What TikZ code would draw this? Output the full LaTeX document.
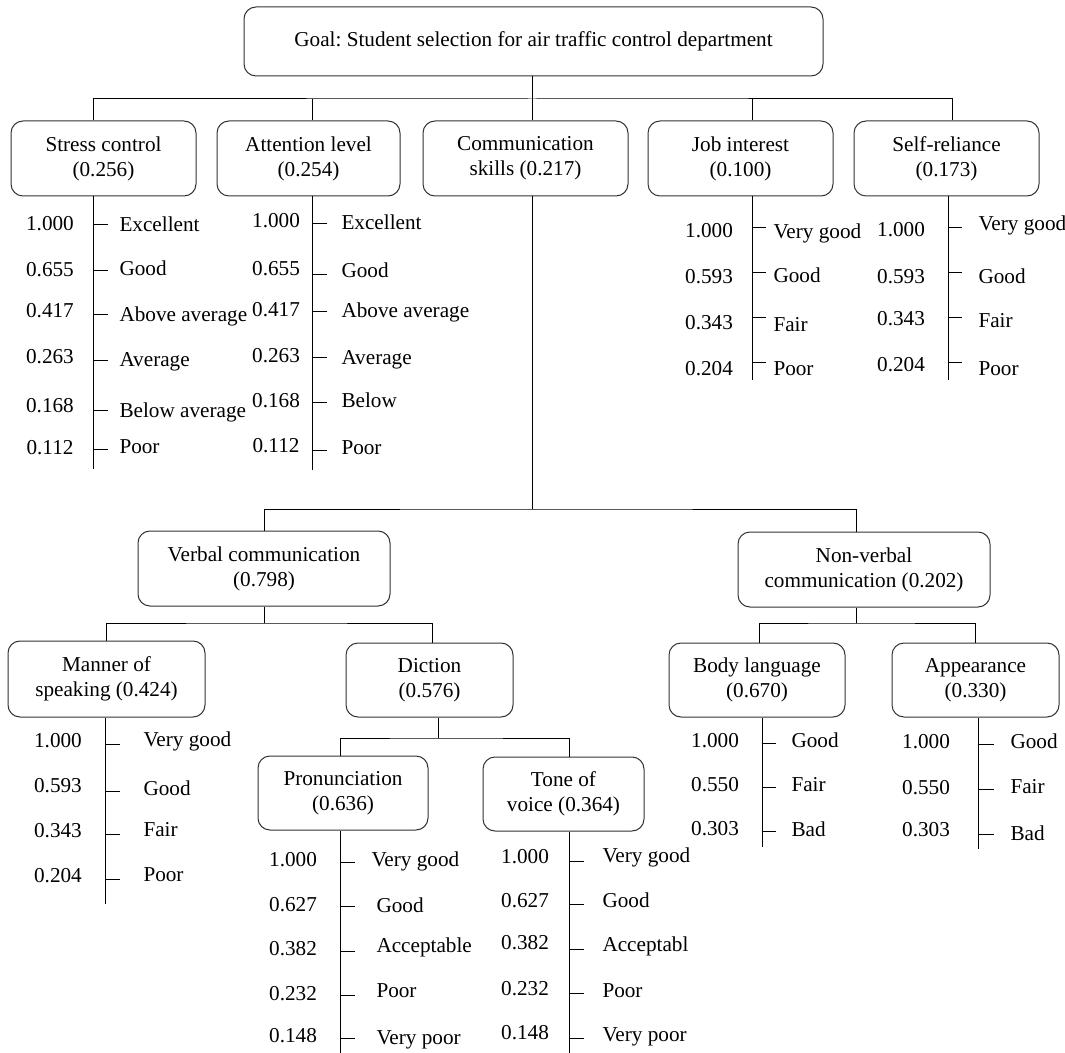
\documentclass[tikz,border=0pt]{standalone}
\usepackage{fontspec}
\setmainfont{Liberation Serif}
\usepackage{tikz}
\frenchspacing

\tikzset{
  box/.style={draw=black!80, rounded corners=6pt, align=center, inner sep=0pt, minimum height=37.5pt},
  val/.style={anchor=mid, inner sep=0pt},
  lab/.style={anchor=mid west, inner sep=0pt},
}

\begin{document}
\begin{tikzpicture}[x=0.5pt, y=-0.5pt, line width=0.5pt,
    every node/.style={font=\fontsize{10.6pt}{12.5pt}\selectfont}]
    \useasboundingbox (0,0) rectangle (1065,1053);

    % goal and criteria
    \node[box, minimum width=289.5pt, minimum height=34.5pt] (goal) at (533.5,41.5) {Goal: Student selection for air traffic control department};
    \node[box, minimum width=92.5pt] (stress) at (103.5,158.5) {Stress control\\(0.256)};
    \node[box, minimum width=91.5pt] (attn) at (308.5,158.5) {Attention level\\(0.254)};
    \node[box, minimum width=102.5pt] (comm) at (525.5,158.5) {Communication\\skills (0.217)};
    \node[box, minimum width=92.5pt] (job) at (740.5,158.5) {Job interest\\(0.100)};
    \node[box, minimum width=92.5pt] (self) at (946.5,158.5) {Self-reliance\\(0.173)};

    % sub-criteria of communication
    \node[box, minimum width=126pt] (verbal) at (264,568.5) {Verbal communication\\(0.798)};
    \node[box, minimum width=126pt] (nonverbal) at (864,569.5) {Non-verbal\\communication (0.202)};
    \node[box, minimum width=98.5pt, minimum height=38pt] (manner) at (106.5,679) {Manner of\\speaking (0.424)};
    \node[box, minimum width=83.5pt, minimum height=37pt] (diction) at (429.5,680) {Diction\\(0.576)};
    \node[box, minimum width=88pt, minimum height=37pt] (body) at (757,680) {Body language\\(0.670)};
    \node[box, minimum width=83.5pt, minimum height=37pt] (appear) at (975.5,680) {Appearance\\(0.330)};
    \node[box, minimum width=85pt, minimum height=37pt] (pron) at (343,793) {Pronunciation\\(0.636)};
    \node[box, minimum width=80.5pt, minimum height=37pt] (tone) at (563.5,794) {Tone of\\voice (0.364)};

    % tree lines
    \coordinate (bustop) at (532.5,99);
    \coordinate (midbus) at (532.5,509);
    \coordinate (vbus) at (264,623);
    \coordinate (nbus) at (856,623);
    \coordinate (dbus) at (438,738);
    \draw ([xshift=-5.25pt]stress.north) |- (bustop) -| ([xshift=2.75pt]self.north);
    \draw (goal.south -| bustop) -- (comm.north -| bustop);
    \draw ([xshift=1.75pt]attn.north) -- ([xshift=1.75pt]attn.north |- bustop);
    \draw ([xshift=5.75pt]job.north) -- ([xshift=5.75pt]job.north |- bustop);
    \draw (comm.south -| midbus) -- (midbus);
    \draw (verbal.north) |- (midbus) -| ([xshift=-4pt]nonverbal.north);
    \draw (verbal.south) -- (vbus);
    \draw (manner.north) |- (vbus) -| ([xshift=1.25pt]diction.north);
    \draw ([xshift=-4pt]nonverbal.south) -- (nbus);
    \draw ([xshift=1pt]body.north) |- (nbus) -| (appear.north);
    \draw (diction.south -| dbus) -- (dbus);
    \draw ([xshift=-1.5pt]pron.north) |- (dbus) -| ([xshift=2.75pt]tone.north);

    % rating scales
    \draw ([xshift=-5.25pt]stress.south) -- ++(0,272);
    \foreach \wt/\ya/\yb/\grade/\yc [count=\i] in {1.000/226/225/Excellent/227, 0.655/272/271/Good/271,
        0.417/313/315/Above average/317, 0.263/359/361/Average/362,
        0.168/408/411/Below average/413, 0.112/450/449/Poor/449}{
      \node[val] (stress-v\i) at (50,\ya) {\wt};
      \draw (93,\yb) -- ++(15,0);
      \node[lab] (stress-l\i) at (119,\yc) {\grade};
    }

    \draw ([xshift=2pt]attn.south) -- ++(0,273);
    \foreach \wt/\ya/\yb/\grade/\yc [count=\i] in {1.000/223/224/Excellent/225, 0.655/271/275/Good/273,
        0.417/312/312/Above average/313, 0.263/358/358/Average/360,
        0.168/403/403/Below/403, 0.112/448/450/Poor/450}{
      \node[val] (attn-v\i) at (276,\ya) {\wt};
      \draw (312.5,\yb) -- ++(14,0);
      \node[lab] (attn-l\i) at (341,\yc) {\grade};
    }

    \draw ([xshift=5.75pt]job.south) -- ++(0,184);
    \foreach \wt/\ya/\yb/\grade/\yc [count=\i] in {1.000/233/228/Very good/234, 0.593/279/273/Good/278,
        0.343/325/318/Fair/327, 0.204/371/363/Poor/371}{
      \node[val] (job-v\i) at (709,\ya) {\wt};
      \draw (752,\yb) -- ++(14,0);
      \node[lab] (job-l\i) at (773,\yc) {\grade};
    }

    \draw ([xshift=0.75pt]self.south) -- ++(0,184);
    \foreach \wt/\ya/\yb/\grade/\yc [count=\i] in {1.000/232/228/Very good/226, 0.593/279/273/Good/279,
        0.343/321/318/Fair/323, 0.204/367/363/Poor/371}{
      \node[val] (self-v\i) at (901,\ya) {\wt};
      \draw (948,\yb) -- ++(14,0);
      \node[lab] (self-l\i) at (978,\yc) {\grade};
    }

    \draw ([xshift=-0.75pt]manner.south) -- ++(0,186);
    \foreach \wt/\ya/\yb/\grade/\yc [count=\i] in {1.000/743/744/Very good/742, 0.593/788/791/Good/791,
        0.343/833/834/Fair/832, 0.204/878/879/Poor/877}{
      \node[val] (manner-v\i) at (58,\ya) {\wt};
      \draw (105,\yb) -- ++(15,0);
      \node[lab] (manner-l\i) at (143,\yc) {\grade};
    }

    \draw ([xshift=-1.5pt]pron.south) -- ++(0,223);
    \foreach \wt/\ya/\yb/\grade/\yc/\xc [count=\i] in {1.000/862/862/Very good/862/371, 0.627/907/906/Good/908/376,
        0.382/951/951/Acceptable/948/376, 0.232/996/995/Poor/993/376, 0.148/1038/1038/Very poor/1040/376}{
      \node[val] (pron-v\i) at (293,\ya) {\wt};
      \draw (340,\yb) -- ++(15,0);
      \node[lab] (pron-l\i) at (\xc,\yc) {\grade};
    }

    \draw ([xshift=2.75pt]tone.south) -- ++(0,222);
    \foreach \wt/\ya/\yb/\grade/\yc [count=\i] in {1.000/859/861/Very good/858, 0.627/903/904/Good/903,
        0.382/945/949/Acceptabl/947, 0.232/991/993/Poor/993, 0.148/1035/1038/Very poor/1037}{
      \node[val] (tone-v\i) at (525,\ya) {\wt};
      \draw (569,\yb) -- ++(15,0);
      \node[lab] (tone-l\i) at (602,\yc) {\grade};
    }

    \draw ([xshift=2.5pt]body.south) -- ++(0,129);
    \foreach \wt/\ya/\yb/\grade/\yc [count=\i] in {1.000/743/743/Good/743, 0.550/787/787/Fair/787,
        0.303/831/831/Bad/832}{
      \node[val] (body-v\i) at (715,\ya) {\wt};
      \draw (762,\yb) -- ++(14,0);
      \node[lab] (body-l\i) at (791,\yc) {\grade};
    }

    \draw ([xshift=1.25pt]appear.south) -- ++(0,131);
    \foreach \wt/\ya/\yb/\grade/\yc [count=\i] in {1.000/744/744/Good/744, 0.550/790/789/Fair/789,
        0.303/832/834/Bad/836}{
      \node[val] (appear-v\i) at (926,\ya) {\wt};
      \draw (978,\yb) -- ++(16,0);
      \node[lab] (appear-l\i) at (1010,\yc) {\grade};
    }
\end{tikzpicture}
\end{document}
